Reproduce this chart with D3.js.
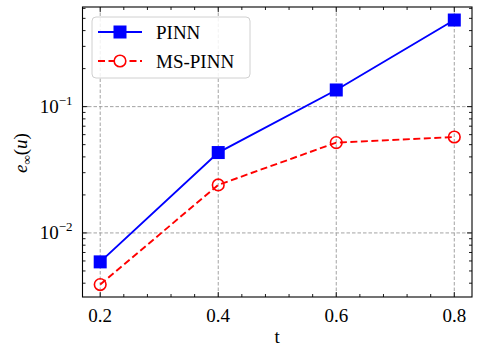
<!DOCTYPE html>
<html lang="en">
<head>
    <meta charset="UTF-8">
    <title>PINN vs MS-PINN error</title>
    <script src="https://d3js.org/d3.v7.min.js"></script>
    <style>
        body { margin: 0; background: #fff; }
        svg { display: block; }
        text { font-family: "Liberation Serif", serif; }
    </style>
</head>
<body>
    <div id="chart"></div>

    <script>
        const tValues = [0.2, 0.4, 0.6, 0.8];
        const pinnErr = [0.0059, 0.0433, 0.1355, 0.485];
        const msPinnErr = [0.0039, 0.024, 0.0519, 0.0575];
        const xTicks = [0.2, 0.4, 0.6, 0.8];
        const yTicks = [0.01, 0.1];
        const seriesNames = ["PINN", "MS-PINN"];

        const W = 479, H = 355;
        const margin = { top: 7, right: 7, bottom: 58, left: 82.5 };
        const width = W - margin.left - margin.right;
        const height = H - margin.top - margin.bottom;

        const svg = d3.select("#chart").append("svg").attr("width", W).attr("height", H);
        const g = svg.append("g").attr("transform", `translate(${margin.left},${margin.top})`);

        const x = d3.scaleLinear().domain([0.17, 0.83]).range([0, width]);
        const y = d3.scaleLog().domain([0.00311, 0.615]).range([height, 0]);

        // grid
        const grid = g.append("g").attr("stroke", "#999").attr("stroke-width", 0.9).attr("stroke-dasharray", "3.5,2");
        xTicks.forEach(t => grid.append("line").attr("x1", x(t)).attr("x2", x(t)).attr("y1", 0).attr("y2", height));
        yTicks.forEach(t => grid.append("line").attr("x1", 0).attr("x2", width).attr("y1", y(t)).attr("y2", y(t)));

        // minor ticks
        const xMinor = d3.range(0.2, 0.83, 0.04).filter(v => !xTicks.some(t => Math.abs(t - v) < 1e-6));
        const yMinor = [];
        [0.001, 0.01, 0.1].forEach(d => { for (let k = 2; k <= 9; k++) { const v = d * k; if (v > 0.00311 && v < 0.615) yMinor.push(v); } });

        const ticks = g.append("g").attr("stroke", "#000").attr("stroke-width", 0.9);
        xTicks.forEach(t => {
            ticks.append("line").attr("x1", x(t)).attr("x2", x(t)).attr("y1", height).attr("y2", height - 5);
            ticks.append("line").attr("x1", x(t)).attr("x2", x(t)).attr("y1", 0).attr("y2", 5);
        });
        xMinor.forEach(t => {
            ticks.append("line").attr("x1", x(t)).attr("x2", x(t)).attr("y1", height).attr("y2", height - 3);
            ticks.append("line").attr("x1", x(t)).attr("x2", x(t)).attr("y1", 0).attr("y2", 3);
        });
        yTicks.forEach(t => {
            ticks.append("line").attr("x1", 0).attr("x2", 5).attr("y1", y(t)).attr("y2", y(t));
            ticks.append("line").attr("x1", width).attr("x2", width - 5).attr("y1", y(t)).attr("y2", y(t));
        });
        yMinor.forEach(t => {
            ticks.append("line").attr("x1", 0).attr("x2", 3).attr("y1", y(t)).attr("y2", y(t));
            ticks.append("line").attr("x1", width).attr("x2", width - 3).attr("y1", y(t)).attr("y2", y(t));
        });

        // lines
        const lineGen = vals => d3.line().x((d, i) => x(tValues[i])).y(d => y(d))(vals);
        g.append("path").attr("d", lineGen(pinnErr)).attr("fill", "none").attr("stroke", "#0000ff").attr("stroke-width", 1.9);
        g.append("path").attr("d", lineGen(msPinnErr)).attr("fill", "none").attr("stroke", "#ff0000")
            .attr("stroke-width", 1.9).attr("stroke-dasharray", "7,3.5");

        g.selectAll(".sq").data(pinnErr).enter().append("rect")
            .attr("x", (d, i) => x(tValues[i]) - 6.5).attr("y", d => y(d) - 6.5)
            .attr("width", 13).attr("height", 13).attr("fill", "#0000ff");
        g.selectAll(".ci").data(msPinnErr).enter().append("circle")
            .attr("cx", (d, i) => x(tValues[i])).attr("cy", d => y(d)).attr("r", 5.8)
            .attr("fill", "none").attr("stroke", "#ff0000").attr("stroke-width", 1.6);

        // frame
        g.append("rect").attr("width", width).attr("height", height).attr("fill", "none")
            .attr("stroke", "#000").attr("stroke-width", 1.1);

        // tick labels
        xTicks.forEach(t => g.append("text").attr("x", x(t)).attr("y", height + 25)
            .attr("text-anchor", "middle").attr("font-size", 19).text(t.toFixed(1)));
        yTicks.forEach(t => {
            const txt = g.append("text").attr("x", -10).attr("y", y(t) + 6.5)
                .attr("text-anchor", "end").attr("font-size", 19);
            txt.append("tspan").text("10");
            txt.append("tspan").attr("dy", -8).attr("font-size", 13).text("\u2212" + Math.round(-Math.log10(t)));
        });

        // axis labels
        svg.append("text").attr("x", margin.left + x(0.5)).attr("y", 343)
            .attr("text-anchor", "middle").attr("font-size", 19).text("t");
        const yl = svg.append("text").attr("transform", "translate(27,153) rotate(-90)")
            .attr("text-anchor", "middle").attr("font-size", 19).attr("font-style", "italic");
        yl.append("tspan").text("e");
        yl.append("tspan").attr("dy", 4).attr("font-size", 13).text("\u221e");
        yl.append("tspan").attr("dy", -4).attr("font-style", "normal").text("(");
        yl.append("tspan").text("u");
        yl.append("tspan").attr("font-style", "normal").text(")");

        // legend
        const lg = g.append("g").attr("transform", "translate(9.5,10)");
        lg.append("rect").attr("width", 158).attr("height", 61).attr("rx", 4)
            .attr("fill", "#fff").attr("fill-opacity", 0.85).attr("stroke", "#d0d0d0").attr("stroke-width", 1);
        seriesNames.forEach((name, i) => {
            const cy = 15 + i * 29;
            const row = lg.append("g");
            if (i === 0) {
                row.append("line").attr("x1", 6).attr("x2", 50).attr("y1", cy).attr("y2", cy)
                    .attr("stroke", "#0000ff").attr("stroke-width", 1.9);
                row.append("rect").attr("x", 28 - 6.5).attr("y", cy - 6.5).attr("width", 13).attr("height", 13).attr("fill", "#0000ff");
            } else {
                row.append("line").attr("x1", 6).attr("x2", 50).attr("y1", cy).attr("y2", cy)
                    .attr("stroke", "#ff0000").attr("stroke-width", 1.9).attr("stroke-dasharray", "7,3.5");
                row.append("circle").attr("cx", 28).attr("cy", cy).attr("r", 5.8)
                    .attr("fill", "#fff").attr("stroke", "#ff0000").attr("stroke-width", 1.6);
            }
            row.append("text").attr("x", 64).attr("y", cy + 6.5).attr("font-size", 19).text(name);
        });
    </script>
</body>
</html>
